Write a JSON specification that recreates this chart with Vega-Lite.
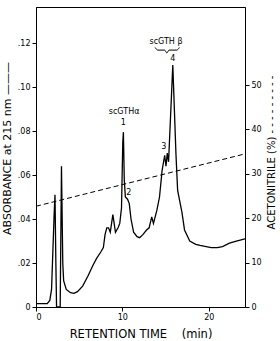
{
  "$schema": "https://vega.github.io/schema/vega-lite/v6.json",
  "width": 209,
  "height": 300,
  "autosize": {"type": "none"},
  "padding": {"left": 36, "top": 7, "right": 35, "bottom": 34},
  "background": "white",
  "config": {
    "view": {"stroke": "black", "strokeWidth": 1},
    "font": "DejaVu Sans",
    "style": {"guide-title": {"fontWeight": "normal", "fill": "black"}},
    "axis": {
      "domainColor": "black", "tickColor": "black", "labelColor": "black", "titleColor": "black",
      "labelFont": "DejaVu Sans", "titleFont": "DejaVu Sans", "labelFontSize": 8, "titleFontSize": 10,
      "titleFontWeight": "normal", "tickSize": 4, "grid": false, "labelPadding": 2
    }
  },
  "datasets": {
    "trace": [
      {"t": 0, "A": 0.0015}, {"t": 1.3, "A": 0.0015}, {"t": 1.6, "A": 0.003}, {"t": 1.8, "A": 0.008},
      {"t": 1.95, "A": 0.025}, {"t": 2.1, "A": 0.042}, {"t": 2.2, "A": 0.051}, {"t": 2.3, "A": 0.02},
      {"t": 2.38, "A": 0}, {"t": 2.8, "A": 0}, {"t": 2.95, "A": 0.064}, {"t": 3.1, "A": 0.02},
      {"t": 3.2, "A": 0.012}, {"t": 3.5, "A": 0.008}, {"t": 4.0, "A": 0.0065}, {"t": 4.4, "A": 0.0062},
      {"t": 4.8, "A": 0.007}, {"t": 5.4, "A": 0.0095}, {"t": 6.0, "A": 0.014}, {"t": 6.6, "A": 0.019},
      {"t": 7.0, "A": 0.022}, {"t": 7.5, "A": 0.025}, {"t": 7.8, "A": 0.027}, {"t": 8.0, "A": 0.033},
      {"t": 8.2, "A": 0.036}, {"t": 8.4, "A": 0.036}, {"t": 8.6, "A": 0.034}, {"t": 8.9, "A": 0.042},
      {"t": 9.2, "A": 0.034}, {"t": 9.5, "A": 0.036}, {"t": 9.7, "A": 0.038}, {"t": 9.9, "A": 0.045},
      {"t": 10.05, "A": 0.075}, {"t": 10.12, "A": 0.0795}, {"t": 10.22, "A": 0.058}, {"t": 10.35, "A": 0.05},
      {"t": 10.6, "A": 0.049}, {"t": 10.8, "A": 0.047}, {"t": 11.0, "A": 0.04}, {"t": 11.3, "A": 0.034},
      {"t": 11.7, "A": 0.032}, {"t": 12.0, "A": 0.0315}, {"t": 12.4, "A": 0.033}, {"t": 12.8, "A": 0.035},
      {"t": 13.1, "A": 0.036}, {"t": 13.4, "A": 0.041}, {"t": 13.6, "A": 0.038}, {"t": 14.0, "A": 0.044},
      {"t": 14.3, "A": 0.05}, {"t": 14.6, "A": 0.062}, {"t": 14.9, "A": 0.069}, {"t": 15.05, "A": 0.064},
      {"t": 15.2, "A": 0.07}, {"t": 15.35, "A": 0.066}, {"t": 15.84, "A": 0.11}, {"t": 16.2, "A": 0.07},
      {"t": 16.4, "A": 0.053}, {"t": 16.9, "A": 0.043}, {"t": 17.2, "A": 0.035}, {"t": 17.8, "A": 0.03},
      {"t": 18.5, "A": 0.0285}, {"t": 19.0, "A": 0.028}, {"t": 19.7, "A": 0.0275}, {"t": 20.3, "A": 0.027},
      {"t": 21.0, "A": 0.027}, {"t": 21.6, "A": 0.0275}, {"t": 22.4, "A": 0.029}, {"t": 23.2, "A": 0.030},
      {"t": 24.2, "A": 0.031}
    ],
    "gradient": [
      {"t": 0, "pct": 22.7}, {"t": 24.2, "pct": 34.5}
    ],
    "brace": [
      {"t": 13.8, "A": 0.1180}, {"t": 14.1, "A": 0.1168}, {"t": 14.9, "A": 0.1168}, {"t": 15.15, "A": 0.1155},
      {"t": 15.4, "A": 0.1168}, {"t": 16.3, "A": 0.1168}, {"t": 16.6, "A": 0.1180}
    ],
    "labels": [
      {"t": 10.2, "A": 0.0885, "text": "scGTHα"},
      {"t": 10.12, "A": 0.0838, "text": "1"},
      {"t": 10.75, "A": 0.0518, "text": "2"},
      {"t": 14.8, "A": 0.0727, "text": "3"},
      {"t": 15.05, "A": 0.1205, "text": "scGTH β"},
      {"t": 15.84, "A": 0.1128, "text": "4"}
    ]
  },
  "layer": [
    {
      "data": {"name": "trace"},
      "mark": {"type": "line", "color": "black", "strokeWidth": 1.3, "clip": true},
      "encoding": {
        "x": {"field": "t", "type": "quantitative", "scale": {"domain": [0, 24.2], "nice": false},
          "axis": {"values": [0, 10, 20], "title": "RETENTION TIME\u00a0\u00a0\u00a0\u00a0(min)", "titleFontSize": 11.5, "titleFontWeight": "normal", "titlePadding": 7}},
        "y": {"field": "A", "type": "quantitative", "scale": {"domain": [0, 0.1364], "nice": false, "zero": false},
          "axis": {"orient": "left", "values": [0, 0.02, 0.04, 0.06, 0.08, 0.1, 0.12],
            "labelExpr": "datum.value == 0 ? '0' : replace(format(datum.value, '.2f'), '0.', '.')",
            "title": "ABSORBANCE at 215 nm \u2014\u2014\u2014", "titleFontSize": 11, "titleFontWeight": "normal", "titleAngle": -90, "titleX": -29, "titleY": 141, "titleBaseline": "middle"}}
      }
    },
    {
      "data": {"name": "gradient"},
      "mark": {"type": "line", "color": "black", "strokeWidth": 1, "strokeDash": [5, 3]},
      "encoding": {
        "x": {"field": "t", "type": "quantitative"},
        "y": {"field": "pct", "type": "quantitative", "scale": {"domain": [0, 67.6], "nice": false, "zero": false},
          "axis": {"orient": "right", "values": [0, 10, 20, 30, 40, 50],
            "title": "ACETONITRILE (%) - - - - - - - - -", "titleColor": "black", "titleFontSize": 10, "titleFontWeight": "normal", "titleAngle": -90, "titleX": 26, "titleY": 145, "titleBaseline": "middle"}}
      }
    },
    {
      "data": {"name": "brace"},
      "mark": {"type": "line", "color": "black", "strokeWidth": 1, "interpolate": "monotone"},
      "encoding": {
        "x": {"field": "t", "type": "quantitative"},
        "y": {"field": "A", "type": "quantitative", "scale": {"domain": [0, 0.1364], "nice": false, "zero": false}, "axis": null}
      }
    },
    {
      "data": {"name": "labels"},
      "mark": {"type": "text", "color": "black", "baseline": "middle", "font": "DejaVu Sans", "fontSize": 8},
      "encoding": {
        "x": {"field": "t", "type": "quantitative"},
        "y": {"field": "A", "type": "quantitative", "scale": {"domain": [0, 0.1364], "nice": false, "zero": false}, "axis": null},
        "text": {"field": "text"}
      }
    }
  ],
  "resolve": {"scale": {"y": "independent"}}
}
